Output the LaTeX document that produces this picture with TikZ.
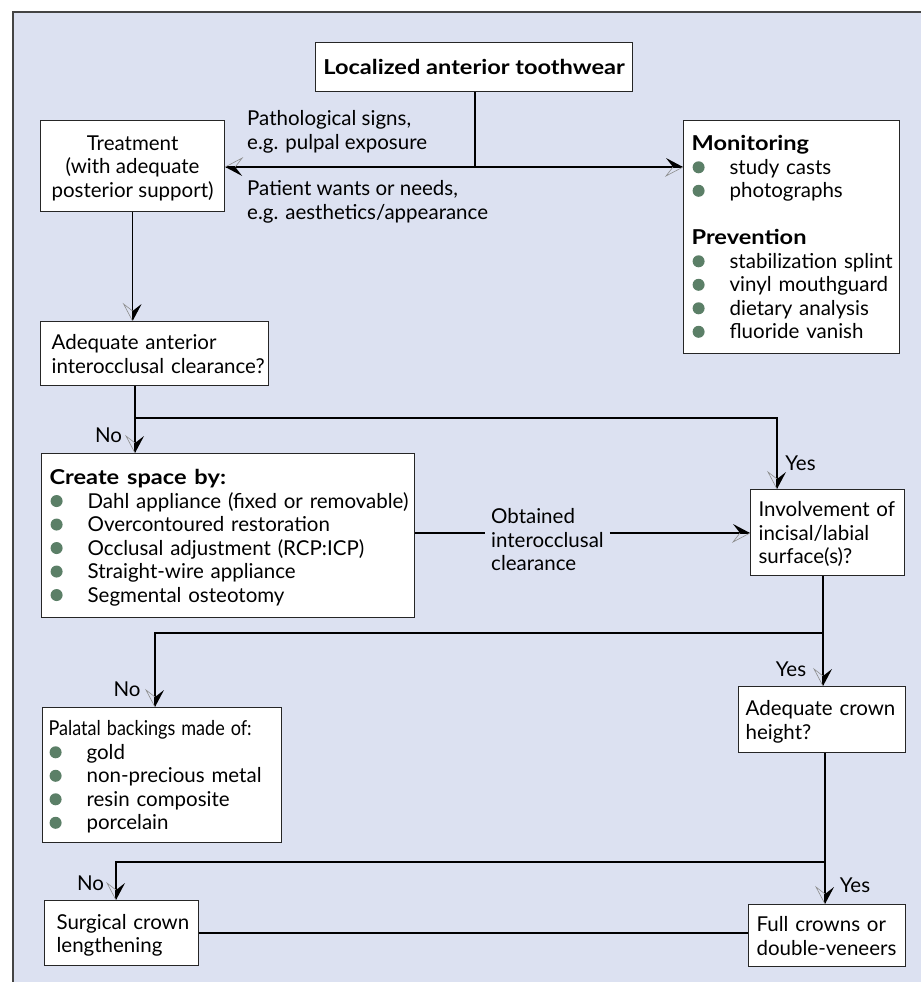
\documentclass[tikz,border=0pt]{standalone}
\usepackage{fontspec}
\setmainfont{Lato}
\usetikzlibrary{arrows.meta}
\definecolor{bgblue}{HTML}{DCE1F1}
\definecolor{bulgreen}{HTML}{5B7F67}
\definecolor{framegray}{HTML}{444444}

\pgfdeclarearrow{
  name = HalfStealth,
  setup code = {
    \pgfarrowssettipend{0pt}
    \pgfarrowssetlineend{-1pt}
    \pgfarrowssetbackend{-17pt}
    \pgfarrowshullpoint{0pt}{0pt}
    \pgfarrowshullpoint{-17pt}{9pt}
    \pgfarrowshullpoint{-17pt}{-9pt}
  },
  drawing code = {
    \pgfsetdash{}{0pt}
    \pgfsetmiterjoin
    \pgfpathmoveto{\pgfpointorigin}
    \pgfpathlineto{\pgfpoint{-17pt}{9pt}}
    \pgfpathlineto{\pgfpoint{-10pt}{0pt}}
    \pgfpathclose
    \pgfsetfillcolor{black}
    \pgfusepathqfill
    \pgfsetlinewidth{0.6pt}
    \pgfsetstrokecolor{black!45}
    \pgfpathmoveto{\pgfpoint{-10pt}{0pt}}
    \pgfpathlineto{\pgfpoint{-17pt}{-9pt}}
    \pgfpathlineto{\pgfpointorigin}
    \pgfusepathqstroke
  }
}

\newcommand\fs{\fontsize{20.5}{23.5}\selectfont}
\newcommand\bul{\makebox[38pt][l]{\hspace{1pt}\raisebox{1pt}{\tikz\fill[bulgreen] (0pt,6pt) circle (6pt);}}}
\newcommand\bt[1]{\scalebox{1.15}[1]{\bfseries #1}}
\newcommand\tl[1]{\raisebox{-3pt}[\height][\depth]{\begin{tabular}{@{}l@{}}#1\end{tabular}}}
\newcommand\tc[1]{\raisebox{-3pt}[\height][\depth]{\begin{tabular}{@{}c@{}}#1\end{tabular}}}

\tikzset{
  box/.style={draw=black!85, fill=white, line width=1.2pt, inner sep=0pt, anchor=north west, font=\fs},
  lbox/.style={box, align=left},
  conn/.style={line width=1.3pt, black},
  arr/.style={conn, -{HalfStealth}},
  lbl/.style={font=\fs, inner sep=0pt}
}

\begin{document}
\begin{tikzpicture}[x=1pt, y=-1pt]
\useasboundingbox (0,0) rectangle (921,982);
\fill[bgblue] (13,12) rectangle (921,982);
\draw[framegray, line width=1.5pt] (13,982) -- (13,12) -- (921,12);

% boxes
\node[box, minimum width=317pt, minimum height=49pt, align=center] (top) at (315,42) {\bt{Localized anterior toothwear}};
\node[box, minimum width=184pt, minimum height=91pt, align=center] (treat) at (40,120) {\tc{Treatment\\(with adequate\\posterior support)}};
\node[lbox, minimum width=216pt, minimum height=233pt, inner xsep=8pt, text width=200pt] (mon) at (683,120) {\tl{\bt{Monitoring}\\\bul study casts\\\bul photographs\\[23.5pt]\bt{Prevention}\\\bul stabilization splint\\\bul vinyl mouthguard\\\bul dietary analysis\\\bul fluoride vanish}};
\node[lbox, minimum width=228pt, minimum height=64pt, inner xsep=11pt, text width=206pt] (adq) at (40,321) {\tl{Adequate anterior\\interocclusal clearance?}};
\node[lbox, minimum width=373pt, minimum height=164pt, inner xsep=8pt, text width=357pt] (create) at (41,453) {\tl{\bt{Create space by:}\\\bul Dahl appliance (fixed or removable)\\\bul Overcontoured restoration\\\bul Occlusal adjustment (RCP:ICP)\\\bul Straight-wire appliance\\\bul Segmental osteotomy}};
\node[lbox, minimum width=154pt, minimum height=86pt, inner xsep=8pt, text width=138pt] (inv) at (750,489) {\tl{Involvement of\\incisal/labial\\surface(s)?}};
\node[lbox, minimum width=239pt, minimum height=135pt, inner xsep=6pt, text width=227pt] (pal) at (42,707) {\tl{\scalebox{0.88}[1]{Palatal backings made of:}\\\bul gold\\\bul non-precious metal\\\bul resin composite\\\bul porcelain}};
\node[lbox, minimum width=167pt, minimum height=66pt, inner xsep=7pt, text width=153pt] (crown) at (738,686) {\tl{Adequate crown\\height?}};
\node[lbox, minimum width=154pt, minimum height=65pt, inner xsep=12pt, text width=130pt] (surg) at (44,900) {\tl{Surgical crown\\lengthening}};
\node[lbox, minimum width=157pt, minimum height=62pt, inner xsep=8pt, text width=141pt] (full) at (748,904) {\tl{Full crowns or\\double-veneers}};

% edge labels
\node[lbl, align=left, anchor=west] (path) at (247,132) {Pathological signs,\\e.g. pulpal exposure};
\node[lbl, align=left, anchor=west] (want) at (247,202) {Patient wants or needs,\\e.g. aesthetics/appearance};
\node[lbl, align=left, anchor=west, inner xsep=6pt] (obt) at (485,540) {Obtained\\interocclusal\\clearance};
\node[lbl] (no1) at (108.5,435) {No};
\node[lbl] (yes1) at (800.5,463) {Yes};
\node[lbl] (no2) at (127,689) {No};
\node[lbl] (yes2) at (791,669) {Yes};
\node[lbl] (no3) at (90.5,883) {No};
\node[lbl] (yes3) at (855,885) {Yes};

% connectors
\coordinate (j1) at (475,167);
\draw[conn] (top.south -| j1) -- (j1);
\draw[arr] (j1) -- (j1 -| treat.east);
\draw[arr] (j1) -- (j1 -| mon.west);
\draw[arr] (treat.south) -- (treat.south |- adq.north);
\coordinate (j2) at (135,418);
\coordinate (k2) at (777,418);
\draw[conn] (j2 |- adq.south) -- (j2);
\draw[arr] (j2) -- (j2 |- create.north);
\draw[arr] (j2) -- (k2) -- (k2 |- inv.north);
\coordinate (oy) at (0,533);
\draw[conn] (create.east |- oy) -- (obt.west |- oy);
\draw[arr] (obt.east |- oy) -- (inv.west |- oy);
\coordinate (j3) at (823,633);
\coordinate (k3) at (155,633);
\draw[conn] (j3 |- inv.south) -- (j3);
\draw[arr] (j3) -- (j3 |- crown.north);
\draw[arr] (j3) -- (k3) -- (k3 |- pal.north);
\coordinate (j4) at (825,862);
\coordinate (k4) at (116,862);
\draw[conn] (j4 |- crown.south) -- (j4);
\draw[arr] (j4) -- (j4 |- full.north);
\draw[arr] (j4) -- (k4) -- (k4 |- surg.north);
\draw[conn] (surg.east) -- (surg.east -| full.west);
\end{tikzpicture}
\end{document}
